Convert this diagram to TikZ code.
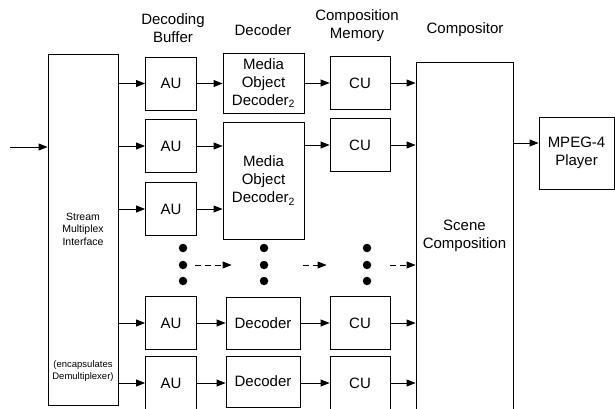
\documentclass[tikz,border=0pt]{standalone}
\usepackage{fontspec}
\setmainfont{Liberation Sans}
\usetikzlibrary{arrows.meta}

\begin{document}
\begin{tikzpicture}[x=1pt, y=-1pt, >={Triangle[length=9pt,width=7pt]},
        every node/.style={font=\fontsize{15}{18}\selectfont, align=center},
        blk/.style={draw, line width=0.9pt, inner sep=0pt},
        aubox/.style={blk, minimum width=51, minimum height=53},
        cubox/.style={blk, minimum width=60, minimum height=53},
        link/.style={->, line width=0.9pt},
        gap/.style={link, dash pattern=on 6pt off 4pt},
        dot/.style={circle, fill, inner sep=0pt, minimum size=8.5pt},
        small/.style={font=\fontsize{10.5}{12.5}\selectfont}]
    \useasboundingbox (0,0) rectangle (615,409);
    % column headings
    \node (hbuf)  at (173,28) {Decoding\\Buffer};
    \node (hdec)  at (263,30) {Decoder};
    \node (hmem)  at (357,26) {Composition\\Memory};
    \node (hcomp) at (465,30) {Compositor};
    % stream multiplex interface
    \node[blk, minimum width=70, minimum height=351] (smi) at (83,229.5) {};
    \node[small] (smitxt) at (83,229) {Stream\\Multiplex\\Interface};
    \node[small, font=\fontsize{9.5}{11.5}\selectfont] (demux) at (83,371) {(encapsulates\\Demultiplexer)};
    % decoding buffers
    \foreach \i/\y in {1/83.5, 2/146, 3/209, 4/323, 5/383} {
        \node[aubox] (au\i) at (171,\y) {AU};
    }
    % decoders
    \node[blk, minimum width=81, minimum height=60]  (dec1) at (263.5,83)    {Media\\Object\\Decoder\textsubscript{2}};
    \node[blk, minimum width=81, minimum height=117] (dec2) at (263.5,180.5) {Media\\Object\\Decoder\textsubscript{2}};
    \node[blk, minimum width=74, minimum height=52]  (dec4) at (263,323)     {Decoder};
    \node[blk, minimum width=74, minimum height=51]  (dec5) at (263,381.5)   {Decoder};
    % composition memory
    \foreach \i/\y in {1/83, 2/145, 4/323, 5/383} {
        \node[cubox] (cu\i) at (360,\y) {CU};
    }
    % compositor and player
    \node[blk, minimum width=97, minimum height=348] (comp) at (464.5,236) {Scene\\Composition};
    \node[blk, minimum width=75, minimum height=72] (player) at (576.5,153) {MPEG-4\\Player};
    % the elided rows
    \foreach \c/\x in {a/183, d/264, c/367} {
        \foreach \k/\y in {1/248, 2/265, 3/281} {
            \node[dot] (\c\k) at (\x,\y) {};
        }
    }
    % connectors
    \coordinate (in) at (10,147);
    \draw[link] (in) -- (in -| smi.west);
    \foreach \i in {1,...,5} {
        \draw[link] (smi.east |- au\i) -- (au\i.west);
    }
    \foreach \a/\d in {1/1, 2/2, 3/2, 4/4, 5/5} {
        \draw[link] (au\a.east) -- (au\a.east -| dec\d.west);
    }
    \foreach \i in {1, 2, 4, 5} {
        \draw[link] (dec\i.east |- cu\i) -- (cu\i.west);
        \draw[link] (cu\i.east) -- (cu\i.east -| comp.west);
    }
    \draw[link] ([yshift=10pt]player.west -| comp.east) -- ([yshift=10pt]player.west);
    \draw[gap, shorten <=8pt, shorten >=28pt] (a2) -- (d2);
    \draw[gap, shorten <=35pt, shorten >=36pt] (d2) -- (c2);
    \draw[gap, shorten <=19pt] (c2) -- (c2 -| comp.west);
\end{tikzpicture}
\end{document}
